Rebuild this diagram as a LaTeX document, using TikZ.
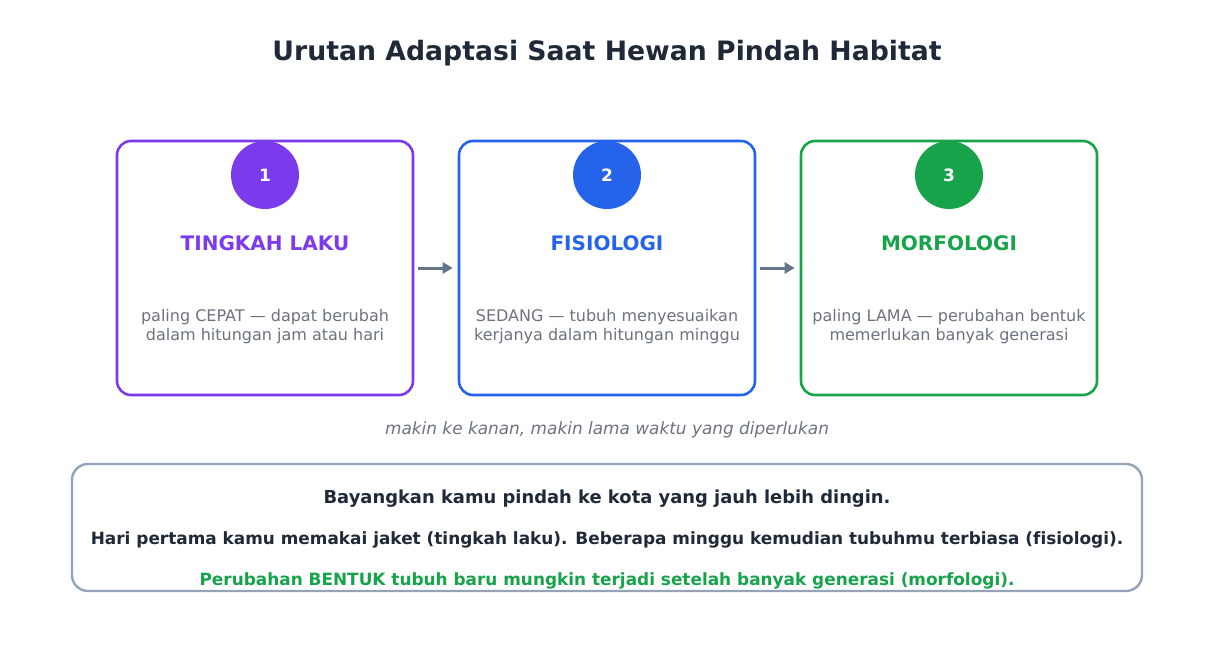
\documentclass[tikz,border=0pt]{standalone}
\usepackage{fontspec}
\setmainfont{DejaVu Sans}[Ligatures=NoCommon]
\usetikzlibrary{positioning, arrows.meta}
\definecolor{ink}{HTML}{1F2937}
\definecolor{muted}{HTML}{6B7280}
\definecolor{arrowgray}{HTML}{64748B}
\definecolor{framegray}{HTML}{94A3B8}
\definecolor{cpurple}{HTML}{7C3AED}
\definecolor{cblue}{HTML}{2563EB}
\definecolor{cgreen}{HTML}{16A34A}
\tikzset{
    stagebox/.style={draw, line width=2.6pt, rounded corners=14pt, minimum width=296pt, minimum height=254pt},
    badge/.style={circle, minimum size=68pt, inner sep=0pt, text=white, font=\fontsize{17}{20}\selectfont\bfseries},
    stagename/.style={font=\fontsize{20}{23}\selectfont\bfseries},
    stagetext/.style={text=muted, align=center, font=\fontsize{16}{19}\selectfont},
    flow/.style={-{Triangle[length=10pt,width=11pt]}, line width=3pt, draw=arrowgray},
    notebox/.style={draw=framegray, line width=2.4pt, rounded corners=16pt, minimum width=1070pt, minimum height=127pt}
}
\begin{document}
\begin{tikzpicture}[x=1pt, y=-1pt]
            \useasboundingbox (0,0) rectangle (1214,652);
            % title
            \node[text=ink, font=\fontsize{26.7}{30}\selectfont\bfseries] (title) at (607,53.5) {Urutan Adaptasi Saat Hewan Pindah Habitat};

            % stages
            \foreach \i/\x/\c/\name/\lineA/\lineB in {
                1/265/cpurple/TINGKAH LAKU/paling CEPAT — dapat berubah/dalam hitungan jam atau hari,
                2/607/cblue/FISIOLOGI/SEDANG — tubuh menyesuaikan/kerjanya dalam hitungan minggu,
                3/949/cgreen/MORFOLOGI/paling LAMA — perubahan bentuk/memerlukan banyak generasi}{
                \node[stagebox, draw=\c] (box\i) at (\x,268) {};
                \node[badge, fill=\c] (num\i) at (\x,175) {\i};
                \node[stagename, text=\c] (name\i) at (\x,243.5) {\name};
                \node[stagetext] (desc\i) at (\x,327) {\lineA\\\lineB};
            }

            % arrows
            \draw[flow] ([xshift=4pt]box1.east) -- ([xshift=-5pt]box2.west);
            \draw[flow] ([xshift=4pt]box2.east) -- ([xshift=-5pt]box3.west);

            \node[text=muted, font=\fontsize{16.9}{19}\selectfont\itshape] (hint) at (607,430) {makin ke kanan, makin lama waktu yang diperlukan};

            % example box
            \node[notebox] (note) at (607,527.5) {};
            \node[text=ink, font=\fontsize{17.9}{20}\selectfont\bfseries] (noteA) at (607,499) {Bayangkan kamu pindah ke kota yang jauh lebih dingin.};
            \node[text=ink, font=\fontsize{16.9}{19}\selectfont\bfseries] (noteB) at (607,540) {Hari pertama kamu memakai jaket (tingkah laku). Beberapa minggu kemudian tubuhmu terbiasa (fisiologi).};
            \node[text=cgreen, font=\fontsize{16.9}{19}\selectfont\bfseries] (noteC) at (607,581) {Perubahan BENTUK tubuh baru mungkin terjadi setelah banyak generasi (morfologi).};
        \end{tikzpicture}
\end{document}
